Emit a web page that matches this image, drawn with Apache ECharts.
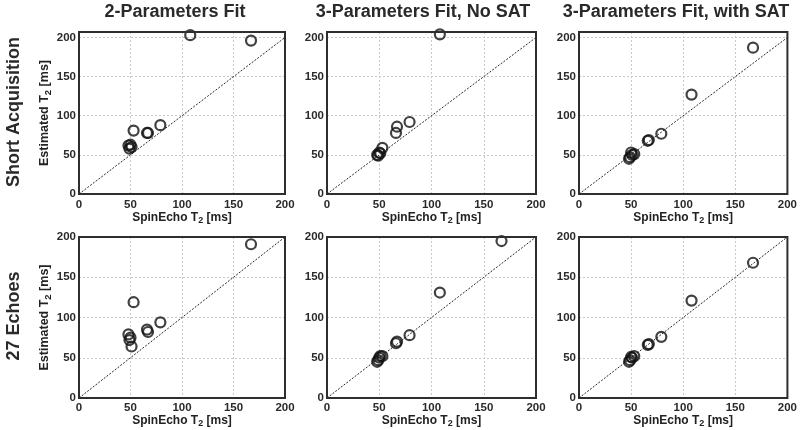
<!DOCTYPE html>
<html><head><meta charset="utf-8">
<script src="https://cdn.jsdelivr.net/npm/echarts@6/dist/echarts.min.js"></script>
<style>html,body{margin:0;padding:0;background:#fff}#c{width:800px;height:430px}</style>
</head><body><div id="c"></div><script>
// Reference SpinEcho T2 values (shared by all panels), ms
const spinEchoT2 = [48, 49, 50, 51, 53, 66, 67, 79, 108, 167];
// Estimated T2 per panel (null = off the chart)
const shortTwoParam   = [62, 58, 63, 60, 81, 78, 78, 88, 203, 196];
const shortThreeNoSat = [50, 49, 53, 52, 59, 78, 86, 92, 204, null];
const shortThreeSat   = [45, 47, 53, 50, 51, 68, 69, 77, 127, 187];
const echoTwoParam    = [79, 72, 75, 64, 119, 85, 82, 94, null, 191];
const echoThreeNoSat  = [45, 47, 50, 52, 52, 68, 70, 78, 131, 195];
const echoThreeSat    = [45, 47, 51, 50, 52, 66, 67, 76, 121, 168];
const identityLine = [[0, 0], [200, 200]];
const columnTitles = ['2-Parameters Fit', '3-Parameters Fit, No SAT', '3-Parameters Fit, with SAT'];
const rowTitles = ['Short Acquisition', '27 Echoes'];
const xTicks = [0, 50, 100, 150, 200];

const panels = [shortTwoParam, shortThreeNoSat, shortThreeSat, echoTwoParam, echoThreeNoSat, echoThreeSat];
const FONT = "'Liberation Sans', Arial, Helvetica, sans-serif";
const colLeft = [79, 327, 579], colWidth = [206, 209, 209];
const rowTop = [32, 237], rowHeight = [162, 161], rowYMax = [207, 200];
const titleX = [175, 423, 676];

const grids = [], xAxes = [], yAxes = [], series = [];
panels.forEach((ys, i) => {
  const r = Math.floor(i / 3), c = i % 3;
  grids.push({left: colLeft[c], top: rowTop[r], width: colWidth[c], height: rowHeight[r],
    show: true, borderColor: '#2e2e2e', borderWidth: 2, backgroundColor: 'transparent', z: 5});
  const nameRich = (fs) => ({
    a: {fontFamily: FONT, fontSize: fs, fontWeight: 'bold', color: '#222'},
    s: {fontFamily: FONT, fontSize: fs - 3, fontWeight: 'bold', color: '#222', padding: [6, 0, 0, 0]}
  });
  xAxes.push({gridIndex: i, type: 'value', min: 0, max: 200, interval: 50,
    name: '{a|SpinEcho T}{s|2}{a| [ms]}', nameLocation: 'middle', nameGap: r === 0 ? 15 : 10,
    nameTextStyle: {rich: nameRich(12)},
    axisLine: {show: false}, axisTick: {show: false},
    axisLabel: {margin: r === 0 ? 5 : 4, fontFamily: FONT, fontSize: 11.5, fontWeight: 'bold', color: '#2a2a2a',
      formatter: v => xTicks.includes(v) ? String(v) : ''},
    splitLine: {show: true, showMinLine: false, showMaxLine: false,
      lineStyle: {color: '#c8c8c8', width: 1, type: [2, 2]}}});
  yAxes.push({gridIndex: i, type: 'value', min: 0, max: rowYMax[r], interval: 50,
    name: c === 0 ? '{a|Estimated T}{s|2}{a| [ms]}' : '', nameLocation: 'middle', nameGap: 20,
    nameTextStyle: {rich: nameRich(12.5)},
    axisLine: {show: false}, axisTick: {show: false},
    axisLabel: {margin: 3, fontFamily: FONT, fontSize: 11.5, fontWeight: 'bold', color: '#2a2a2a',
      formatter: v => (v % 50 === 0) ? String(v) : ''},
    splitLine: {show: true, showMinLine: false, showMaxLine: false,
      lineStyle: {color: '#c8c8c8', width: 1, type: [2, 2]}}});
  series.push({type: 'line', xAxisIndex: i, yAxisIndex: i, data: identityLine,
    showSymbol: false, silent: true, z: 2, animation: false,
    lineStyle: {color: '#2a2a2a', width: 1, type: [2, 1.5]}});
  const pts = [];
  spinEchoT2.forEach((x, k) => { if (ys[k] !== null) pts.push([x, ys[k]]); });
  series.push({type: 'scatter', xAxisIndex: i, yAxisIndex: i, data: pts, symbol: 'circle',
    symbolSize: 10, z: 3, animation: false,
    itemStyle: {color: 'rgba(0,0,0,0)', borderColor: '#111', borderWidth: 2.2}});
});

const graphic = [];
columnTitles.forEach((t, c) => graphic.push({type: 'text', x: titleX[c], y: 12,
  style: {text: t, font: "bold 18px " + FONT, fill: '#2a2a2a', textAlign: 'center', textVerticalAlign: 'middle'}}));
const rowCenters = [112, 316];
rowTitles.forEach((t, r) => graphic.push({type: 'text', x: 14, y: rowCenters[r], rotation: Math.PI / 2,
  style: {text: t, font: "bold 18px " + FONT, fill: '#2a2a2a', textAlign: 'center', textVerticalAlign: 'middle'}}));

const chart = echarts.init(document.getElementById('c'), null, {renderer: 'canvas'});
chart.setOption({backgroundColor: '#fff', animation: false, grid: grids, xAxis: xAxes, yAxis: yAxes, series, graphic});
</script></body></html>
